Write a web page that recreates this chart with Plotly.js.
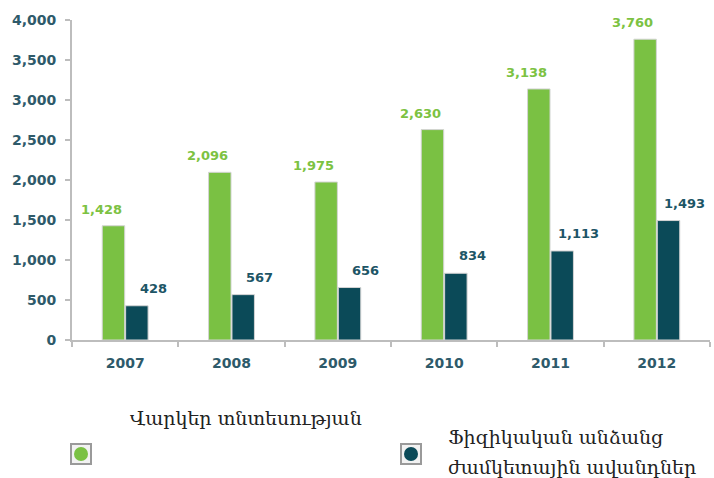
<!DOCTYPE html>
<html>
<head>
<meta charset="utf-8">
<script src="https://cdn.plot.ly/plotly-3.0.1.min.js"></script>
<style>html,body{margin:0;padding:0;background:#fff;}#chart{width:714px;height:478px;}</style>
</head>
<body>
<div id="chart"></div>
<script>
const years = ['2007', '2008', '2009', '2010', '2011', '2012'];
const businessLoans = [1428, 2096, 1975, 2630, 3138, 3760];
const termDeposits = [428, 567, 656, 834, 1113, 1493];
const seriesNames = ['Վարկեր տնտեսության', 'Ֆիզիկական անձանց ժամկետային ավանդներ'];
const yTicks = [0, 500, 1000, 1500, 2000, 2500, 3000, 3500, 4000];

const GREEN = '#7ac143';
const DARK = '#0b4a58';
const L = 72, R = 710, T = 20, B = 340;
const px = x => (x - L) / (R - L);
const py = y => (B - y) / (B - T);
const fmt = v => v.toLocaleString('en-US');

const traces = [
  {type: 'bar', x: years, y: businessLoans, name: seriesNames[0],
   marker: {color: GREEN, line: {color: '#d4d4d4', width: 1}}, hoverinfo: 'skip'},
  {type: 'bar', x: years, y: termDeposits, name: seriesNames[1],
   marker: {color: DARK, line: {color: '#d4d4d4', width: 1}}, hoverinfo: 'skip'}
];

const annotations = [];
years.forEach((yr, i) => {
  // category axis: numeric-looking strings are read as indices, so use the category index
  annotations.push({x: i, y: businessLoans[i], xref: 'x', yref: 'y', text: fmt(businessLoans[i]),
    showarrow: false, xanchor: 'center', yanchor: 'bottom', xshift: -24, yshift: 7,
    font: {family: 'DejaVu Sans', size: 13, weight: 'bold', color: '#7cc242'}});
  annotations.push({x: i, y: termDeposits[i], xref: 'x', yref: 'y', text: fmt(termDeposits[i]),
    showarrow: false, xanchor: 'center', yanchor: 'bottom', xshift: 28, yshift: 8,
    font: {family: 'DejaVu Sans', size: 13, weight: 'bold', color: '#1d5566'}});
});
const legFont = {family: 'DejaVu Serif', size: 19, color: '#222'};
annotations.push({xref: 'paper', yref: 'paper', x: px(128), y: py(418), text: seriesNames[0],
  showarrow: false, xanchor: 'left', yanchor: 'middle', font: legFont});
annotations.push({xref: 'paper', yref: 'paper', x: px(446), y: py(437), text: 'Ֆիզիկական անձանց',
  showarrow: false, xanchor: 'left', yanchor: 'middle', font: legFont});
annotations.push({xref: 'paper', yref: 'paper', x: px(446), y: py(467), text: 'ժամկետային ավանդներ',
  showarrow: false, xanchor: 'left', yanchor: 'middle', font: legFont});

const shapes = [];
[[70, GREEN], [400, DARK]].forEach(([x, c]) => {
  shapes.push({type: 'rect', xref: 'paper', yref: 'paper', x0: px(x), x1: px(x + 22), y0: py(465), y1: py(443),
    fillcolor: '#9a9a9a', line: {width: 0}});
  shapes.push({type: 'rect', xref: 'paper', yref: 'paper', x0: px(x + 2), x1: px(x + 20), y0: py(463), y1: py(445),
    fillcolor: '#f2f2f2', line: {width: 0}});
  shapes.push({type: 'circle', xref: 'paper', yref: 'paper', x0: px(x + 4), x1: px(x + 18), y0: py(461), y1: py(447),
    fillcolor: c, line: {width: 0}});
});

const layout = {
  width: 714, height: 478,
  margin: {l: L, r: 714 - R, t: T, b: 478 - B, pad: 0},
  paper_bgcolor: '#fff', plot_bgcolor: '#fff',
  showlegend: false,
  barmode: 'group', bargap: 0.56, bargroupgap: 0.04,
  xaxis: {type: 'category', range: [-0.5, 5.5], autorange: false, showgrid: false, zeroline: false,
    showline: true, linecolor: '#bdbdbd', linewidth: 2,
    ticks: 'outside', tickson: 'boundaries', ticklen: 5, tickcolor: '#bdbdbd', tickwidth: 2,
    ticklabelstandoff: 9,
    tickfont: {family: 'DejaVu Sans', size: 14, weight: 'bold', color: '#2e5a6a'}},
  yaxis: {range: [0, 4000], autorange: false, tickvals: yTicks, ticktext: yTicks.map(fmt), showgrid: false, zeroline: false,
    showline: true, linecolor: '#bdbdbd', linewidth: 2, ticks: 'outside', ticklen: 5, tickcolor: '#bdbdbd', tickwidth: 2,
    ticklabelstandoff: 6,
    tickfont: {family: 'DejaVu Sans', size: 14, weight: 'bold', color: '#2e5a6a'}},
  annotations: annotations,
  shapes: shapes
};

Plotly.newPlot('chart', traces, layout, {staticPlot: true, displayModeBar: false});
</script>
</body>
</html>
